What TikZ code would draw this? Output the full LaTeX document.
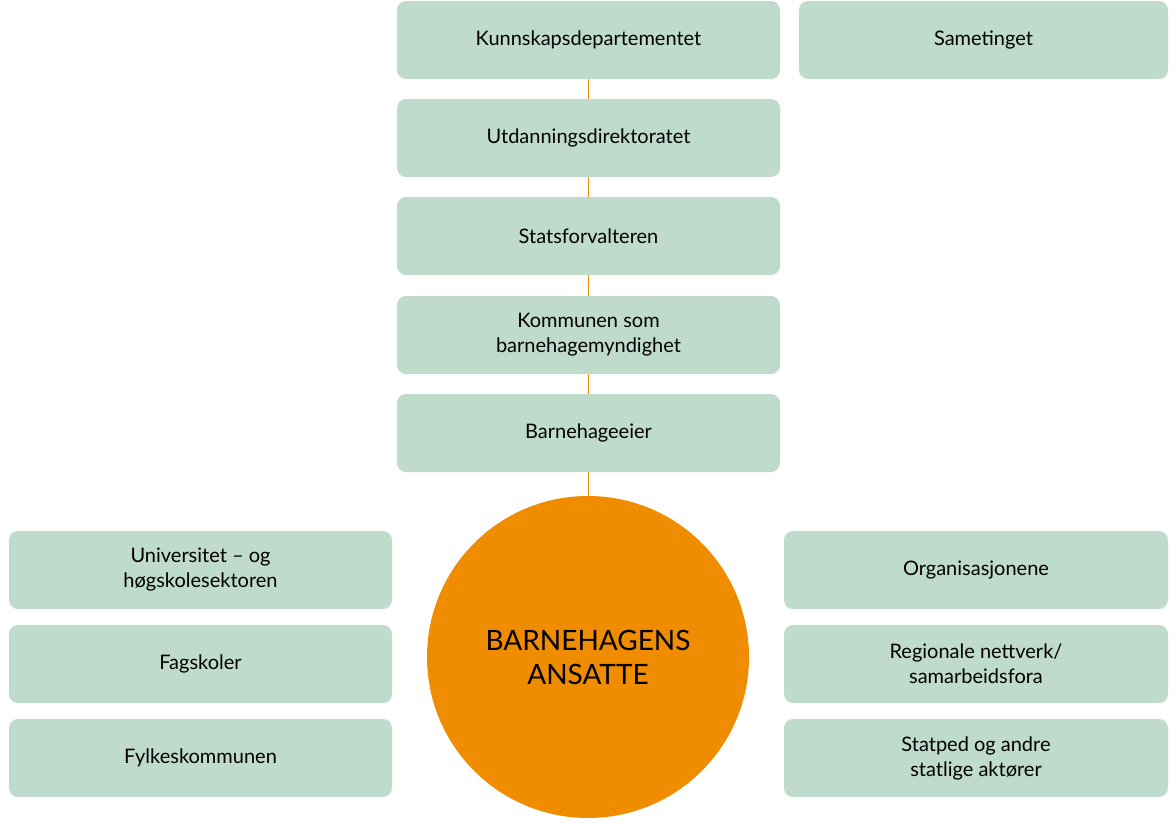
\documentclass[tikz,border=0pt]{standalone}
\usepackage{fontspec}
\setmainfont{Lato}
\definecolor{boxg}{HTML}{BEDBCB}
\definecolor{org}{HTML}{F08C00}
\begin{document}
\begin{tikzpicture}[x=1pt,y=-1pt,
  bx/.style={fill=boxg,draw=none,rounded corners=9pt,minimum width=383pt,minimum height=78pt,align=center,font=\fontsize{20}{25}\selectfont,inner sep=0pt},
  ln/.style={draw=org,line width=1.5pt}]
\useasboundingbox (0,0) rectangle (1176,823);
\draw[ln] (588.5,40) -- (588.5,660);
\node[bx] (kd) at (588.5,40) {Kunnskapsdepartementet};
\node[bx,minimum width=369pt] (st) at (983.5,40) {Sametinget};
\node[bx] (ud) at (588.5,138) {Utdanningsdirektoratet};
\node[bx] (sf) at (588.5,236) {Statsforvalteren};
\node[bx] (km) at (588.5,335) {Kommunen som\\barnehagemyndighet};
\node[bx] (be) at (588.5,433) {Barnehageeier};
\node[circle,fill=org,minimum size=322pt,inner sep=0pt,align=center,font=\fontsize{28}{34}\selectfont] (c) at (588,657) {BARNEHAGENS\\ANSATTE};
\node[bx] (u) at (200.5,570) {Universitet – og\\høgskolesektoren};
\node[bx] (f) at (200.5,664) {Fagskoler};
\node[bx] (fy) at (200.5,758) {Fylkeskommunen};
\node[bx,minimum width=384pt] (o) at (976,570) {Organisasjonene};
\node[bx,minimum width=384pt] (r) at (976,664) {Regionale nettverk/\\samarbeidsfora};
\node[bx,minimum width=384pt] (sp) at (976,758) {Statped og andre\\statlige aktører};
\end{tikzpicture}
\end{document}
